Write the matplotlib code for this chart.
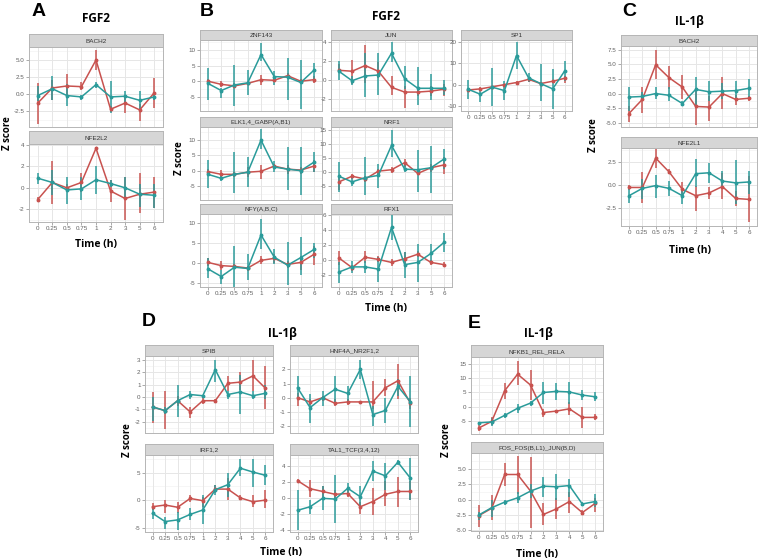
import numpy as np
import matplotlib
matplotlib.use("Agg")
import matplotlib.pyplot as plt

# ---------------- data ----------------
fgf2_times = ["0", "0.25", "0.5", "0.75", "1", "2", "3", "5", "6"]
il1b_times = ["0", "0.25", "0.5", "0.75", "1", "2", "3", "4", "5", "6"]

# Panel A (FGF2)
A_BACH2_red = [-1.3, 0.9, 1.2, 1.1, 5.0, -2.2, -1.3, -2.3, 0.2]
A_BACH2_red_lo = [-4.3, -0.9, -0.6, 0.6, 3.6, -2.6, -2.8, -3.9, -2.0]
A_BACH2_red_hi = [1.7, 2.1, 2.9, 1.8, 6.5, -1.8, -0.1, -1.4, 2.4]
A_BACH2_teal = [-0.2, 0.8, -0.2, -0.4, 1.4, -0.4, -0.3, -0.9, -0.4]
A_BACH2_teal_lo = [-1.0, -0.9, -1.7, -0.9, 0.9, -2.8, -1.1, -2.3, -0.9]
A_BACH2_teal_hi = [1.2, 2.6, 1.5, -0.15, 1.8, 1.9, 0.5, 0.4, 0.3]

A_NFE2L2_red = [-1.1, 0.5, 0.0, 0.5, 3.7, -0.3, -1.0, -0.6, -0.4]
A_NFE2L2_red_lo = [-1.2, -1.5, -0.3, -0.4, 3.5, -1.3, -3.0, -2.4, -1.9]
A_NFE2L2_red_hi = [-0.9, 2.5, 0.35, 1.4, 3.8, 0.7, 1.0, 1.4, 1.0]
A_NFE2L2_teal = [0.9, 0.5, -0.2, -0.1, 0.75, 0.4, 0.0, -0.6, -0.7]
A_NFE2L2_teal_lo = [0.35, -0.7, -1.5, -1.1, -0.55, 0.05, -1.1, -1.8, -1.9]
A_NFE2L2_teal_hi = [1.4, 1.7, 1.0, 1.0, 2.0, 0.7, 1.0, 0.35, 0.35]

# Panel B (FGF2)
B_ZNF143_red = [0.0, -1.0, -1.5, -0.7, 0.5, 0.3, 1.8, 0.0, 0.5]
B_ZNF143_red_lo = [-0.6, -1.7, -2.3, -1.3, -1.2, -0.4, 1.0, -0.6, -0.7]
B_ZNF143_red_hi = [0.6, 0.0, -0.6, -0.1, 2.1, 1.0, 2.6, 0.6, 1.7]
B_ZNF143_teal = [-0.7, -3.0, -1.2, -0.5, 8.6, 1.5, 1.3, -0.4, 3.6]
B_ZNF143_teal_lo = [-6.0, -5.3, -8.0, -4.5, 6.4, -1.2, -5.9, -8.8, 0.4]
B_ZNF143_teal_hi = [4.3, -2.2, 5.3, 3.7, 12.4, 3.2, 7.5, 7.0, 5.9]

B_ELK_red = [-0.3, -1.2, -1.2, -0.5, -0.2, 1.5, 0.5, 0.2, 1.5]
B_ELK_red_lo = [-1.5, -2.6, -2.0, -2.0, -2.6, 0.7, -1.0, -1.0, -0.4]
B_ELK_red_hi = [0.7, 0.1, -0.4, 1.2, 1.7, 2.3, 1.7, 1.2, 3.4]
B_ELK_teal = [-1.2, -2.5, -1.2, -0.5, 10.0, 1.2, 0.5, 0.0, 2.8]
B_ELK_teal_lo = [-5.8, -3.4, -7.4, -5.3, 7.1, -0.4, -6.3, -7.9, -0.4]
B_ELK_teal_hi = [3.5, -1.5, 6.0, 4.4, 13.5, 3.3, 7.6, 7.6, 6.0]

B_NFY_red = [0.2, -0.6, -0.8, -1.2, 0.7, 1.2, -0.3, 0.2, 2.2]
B_NFY_red_lo = [-0.8, -1.6, -1.5, -2.0, -0.3, 0.1, -1.2, -1.6, -0.4]
B_NFY_red_hi = [1.3, 0.5, -0.2, -0.6, 1.8, 2.2, 0.5, 1.8, 4.3]
B_NFY_teal = [-1.4, -3.3, -1.0, -1.3, 7.0, 1.5, -0.5, 1.4, 3.4]
B_NFY_teal_lo = [-3.7, -5.1, -5.9, -4.2, 3.5, -0.3, -5.5, -2.9, 1.4]
B_NFY_teal_hi = [1.4, -1.6, 4.3, 2.2, 11.0, 3.5, 5.2, 6.5, 5.1]

B_JUN_red = [1.0, 0.9, 1.5, 0.9, -0.8, -1.3, -1.3, -1.2, -1.0]
B_JUN_red_lo = [0.7, -0.5, -0.3, 0.2, -1.6, -3.0, -1.7, -1.7, -1.7]
B_JUN_red_hi = [1.7, 2.1, 3.7, 1.9, 0.4, -0.65, -0.85, -0.65, -0.5]
B_JUN_teal = [0.9, -0.1, 0.4, 0.5, 2.8, 0.1, -0.9, -0.9, -0.9]
B_JUN_teal_lo = [0.0, -0.6, -1.8, -1.6, 1.85, -1.0, -2.7, -2.1, -1.6]
B_JUN_teal_hi = [2.0, 0.4, 2.8, 2.8, 4.0, 1.5, 1.3, 0.6, 0.0]

B_NRF1_red = [-3.5, -1.5, -2.5, 0.3, 0.8, 3.3, -0.5, 1.5, 2.5]
B_NRF1_red_lo = [-6.4, -2.6, -3.5, -0.6, -0.2, 1.7, -1.2, 0.0, -0.6]
B_NRF1_red_hi = [-1.2, -0.6, -1.5, 1.2, 1.7, 4.7, 0.6, 2.9, 5.2]
B_NRF1_teal = [-1.5, -3.5, -2.0, -1.2, 9.4, 1.0, 0.8, 1.5, 4.6]
B_NRF1_teal_lo = [-7.0, -4.9, -8.1, -5.8, 5.2, 0.0, -7.0, -7.3, 1.2]
B_NRF1_teal_hi = [3.5, -2.3, 5.2, 2.9, 14.8, 2.3, 7.6, 9.3, 8.1]

B_RFX1_red = [0.3, -1.0, 0.4, 0.1, -0.3, 0.2, 0.8, -0.3, -0.6]
B_RFX1_red_lo = [-0.6, -1.5, -0.4, -0.3, -0.8, -0.6, 0.4, -0.7, -0.9]
B_RFX1_red_hi = [1.3, -0.7, 1.2, 0.6, 0.1, 1.1, 1.3, 0.0, -0.3]
B_RFX1_teal = [-1.6, -0.9, -0.9, -1.2, 4.4, -0.6, -0.3, 0.9, 2.4]
B_RFX1_teal_lo = [-3.1, -1.7, -1.7, -2.9, 2.7, -2.4, -2.9, -0.3, 1.1]
B_RFX1_teal_hi = [-0.3, -0.1, -0.1, 0.4, 6.0, 1.1, 2.2, 2.2, 3.6]

B_SP1_red = [-2.5, -2.0, -1.0, 0.0, 1.0, 2.5, 0.5, 1.6, 3.0]
B_SP1_red_lo = [-3.3, -2.8, -1.5, -0.5, 0.5, 1.2, -0.2, 1.0, 0.8]
B_SP1_red_hi = [-1.6, -1.2, -0.5, 0.5, 1.5, 3.3, 1.1, 2.2, 4.0]
B_SP1_teal = [-2.2, -4.5, -1.2, -2.8, 13.7, 3.2, 0.5, -2.0, 6.5]
B_SP1_teal_lo = [-6.9, -8.1, -10.1, -7.3, 7.3, 1.1, -7.6, -11.3, 1.6]
B_SP1_teal_hi = [2.4, -2.4, 7.6, 1.6, 20.2, 5.6, 9.7, 7.3, 11.0]

# Panel C (IL-1beta)
C_BACH2_red = [-3.4, -1.0, 4.9, 2.7, 1.1, -2.2, -2.3, 0.0, -1.0, -0.8]
C_BACH2_red_lo = [-4.9, -3.3, 2.5, 0.7, -1.0, -5.3, -4.7, -2.7, -2.0, -1.3]
C_BACH2_red_hi = [-2.2, 1.1, 7.4, 4.7, 3.2, 1.0, -0.5, 2.9, -0.2, -0.5]
C_BACH2_teal = [-0.6, -0.5, 0.0, -0.3, -1.7, 0.7, 0.3, 0.4, 0.5, 0.9]
C_BACH2_teal_lo = [-3.0, -1.0, -1.0, -1.3, -2.2, -2.0, -1.3, -1.0, -1.0, -1.0]
C_BACH2_teal_hi = [1.1, 0.2, 1.1, 1.1, -1.2, 2.9, 2.1, 1.8, 2.1, 2.5]

C_NFE2L1_red = [-0.3, -0.3, 2.9, 1.4, -0.5, -1.2, -0.9, -0.2, -1.5, -1.6]
C_NFE2L1_red_lo = [-0.6, -2.0, 1.8, 1.2, -1.2, -2.9, -1.6, -1.6, -2.3, -4.1]
C_NFE2L1_red_hi = [0.0, 1.4, 4.0, 1.7, 0.3, -0.1, -0.3, 1.3, -0.7, 0.9]
C_NFE2L1_teal = [-1.2, -0.4, -0.1, -0.4, -1.2, 1.2, 1.3, 0.4, 0.2, 0.3]
C_NFE2L1_teal_lo = [-2.0, -1.6, -1.4, -1.2, -2.1, -0.3, 0.2, -0.5, -2.1, -1.0]
C_NFE2L1_teal_hi = [-0.5, 0.6, 1.1, 0.4, -0.5, 2.8, 2.4, 1.5, 2.7, 1.5]

# Panel D (IL-1beta)
D_SPIB_red = [-0.8, -1.1, -0.3, -1.2, -0.3, -0.3, 1.1, 1.2, 1.7, 0.7]
D_SPIB_red_lo = [-2.1, -2.6, -0.7, -1.7, -0.6, -0.4, 0.5, 0.6, 0.5, -1.0]
D_SPIB_red_hi = [0.4, 0.5, 0.1, -0.8, 0.0, -0.2, 1.7, 2.0, 3.0, 2.5]
D_SPIB_teal = [-0.8, -1.1, -0.3, 0.2, 0.1, 2.2, 0.2, 0.4, 0.1, 0.3]
D_SPIB_teal_lo = [-1.9, -1.4, -1.6, -0.2, 0.0, 1.2, -0.2, -1.4, -0.2, -0.2]
D_SPIB_teal_hi = [0.0, -0.8, 1.0, 0.5, 0.2, 3.0, 0.5, 1.8, 0.5, 1.0]

D_HNF4A_red = [0.0, -0.3, 0.0, -0.4, -0.3, -0.3, -0.3, 0.7, 1.2, -0.4]
D_HNF4A_red_lo = [-0.6, -0.5, -0.2, -0.6, -0.5, -0.4, -0.8, 0.1, -0.1, -0.8]
D_HNF4A_red_hi = [0.35, -0.1, 0.15, -0.1, -0.1, -0.2, 1.2, 1.3, 2.35, 0.0]
D_HNF4A_teal = [0.7, -0.7, 0.0, 0.6, 0.3, 2.0, -1.2, -0.9, 0.8, -0.3]
D_HNF4A_teal_lo = [-0.1, -1.8, -0.6, -0.3, -0.2, 1.3, -2.0, -1.8, 0.1, -2.1]
D_HNF4A_teal_hi = [1.5, 0.25, 0.5, 1.5, 0.8, 2.7, -0.6, 0.0, 1.3, 1.5]

D_IRF_red = [-1.2, -0.9, -1.3, 0.3, -0.1, 2.0, 2.0, 0.4, -0.3, 0.0]
D_IRF_red_lo = [-1.8, -2.4, -2.4, -0.3, -1.2, 1.2, 0.0, 0.0, -1.2, -1.5]
D_IRF_red_hi = [-0.6, 0.0, -0.3, 0.9, 0.6, 2.7, 4.0, 0.9, 0.9, 1.8]
D_IRF_teal = [-2.4, -3.9, -3.6, -2.6, -1.8, 1.9, 2.8, 5.8, 5.1, 4.5]
D_IRF_teal_lo = [-3.4, -5.2, -5.5, -3.7, -4.3, 0.9, 0.6, 4.3, 2.4, 2.7]
D_IRF_teal_hi = [-1.5, -3.0, -2.1, -1.5, 0.9, 2.7, 4.9, 7.4, 7.4, 6.4]

D_TAL1_red = [2.2, 1.2, 0.85, 0.5, 0.6, -1.05, -0.4, 0.5, 0.85, 0.85]
D_TAL1_red_lo = [2.0, 0.2, 0.2, 0.0, 0.2, -1.9, -2.1, -1.0, -1.05, -0.2]
D_TAL1_red_hi = [2.4, 2.3, 1.5, 1.0, 1.05, -0.4, 1.25, 2.1, 2.7, 2.1]
D_TAL1_teal = [-1.5, -1.05, 0.0, -0.1, 1.25, 0.2, 3.4, 2.8, 4.5, 2.5]
D_TAL1_teal_lo = [-3.9, -1.9, -1.5, -3.1, 0.6, -1.05, 2.1, 1.05, 4.2, -0.2]
D_TAL1_teal_hi = [1.05, -0.2, 1.5, 2.9, 1.9, 1.5, 4.6, 4.4, 4.8, 5.0]

# Panel E (IL-1beta)
E_NFKB1_red = [-7.5, -5.2, 5.5, 11.3, 7.5, -2.1, -1.6, -0.8, -3.8, -3.8]
E_NFKB1_red_lo = [-8.7, -6.4, 2.6, 7.5, 2.3, -3.6, -2.0, -3.1, -7.5, -4.7]
E_NFKB1_red_hi = [-6.4, -3.6, 8.3, 15.8, 12.8, -0.8, -1.1, 1.5, 0.0, -2.5]
E_NFKB1_teal = [-5.7, -5.4, -3.1, -0.6, 1.2, 4.9, 5.3, 5.1, 4.0, 3.4]
E_NFKB1_teal_lo = [-6.1, -6.8, -3.9, -2.3, 0.3, 0.9, 2.3, 0.9, 2.3, 2.0]
E_NFKB1_teal_hi = [-5.3, -4.1, -2.3, 0.9, 2.0, 8.7, 8.3, 8.7, 5.7, 4.9]

E_FOS_red = [-2.6, -1.4, 4.1, 4.1, 1.4, -2.4, -1.5, -0.3, -2.1, -0.6]
E_FOS_red_lo = [-4.4, -3.3, 2.3, 1.0, -4.6, -4.1, -3.1, -2.2, -2.5, -2.0]
E_FOS_red_hi = [-0.9, 0.7, 5.9, 7.1, 7.0, -0.6, 0.2, 1.2, -1.7, 0.2]
E_FOS_teal = [-2.5, -1.3, -0.4, 0.3, 1.4, 2.2, 2.1, 2.3, -0.7, -0.3]
E_FOS_teal_lo = [-3.3, -2.8, -0.9, -0.6, 0.2, 0.4, 0.0, 0.4, -1.1, -1.2]
E_FOS_teal_hi = [-2.0, -0.1, 0.0, 1.2, 2.6, 3.7, 4.2, 3.4, -0.4, 0.9]

# ---------------- style ----------------
W, H = 760, 560
RED = "#c8524f"
TEAL = "#2a9b9a"
TICK_C = "#606060"
FONT = ["Liberation Sans", "DejaVu Sans"]
plt.rcParams["font.family"] = FONT

fig = plt.figure(figsize=(W / 100, H / 100), dpi=100)


def rect(x0, y0, x1, y1):
    return [x0 / W, 1 - y1 / H, (x1 - x0) / W, (y1 - y0) / H]


def facet(x0, x1, strip_top, strip_h, plot_bot, name, times, red, rlo, rhi,
          teal, tlo, thi, ylim, yticks, fmt, show_x):
    ptop = strip_top + strip_h
    ax = fig.add_axes(rect(x0, ptop, x1, plot_bot))
    n = len(times)
    x = np.arange(n)
    ax.set_xlim(-0.6, n - 1 + 0.6)
    ax.set_ylim(*ylim)
    # grid
    minor = [(a + b) / 2 for a, b in zip(yticks[:-1], yticks[1:])]
    step = yticks[1] - yticks[0]
    minor = [yticks[0] - step / 2] + minor + [yticks[-1] + step / 2]
    for m in minor:
        ax.axhline(m, color="#f3f3f3", lw=0.5, zorder=0)
    for t in yticks:
        ax.axhline(t, color="#e6e6e6", lw=0.7, zorder=0)
    for xi in x:
        ax.axvline(xi, color="#e6e6e6", lw=0.7, zorder=0)
    # series
    for mean, lo, hi, c in [(red, rlo, rhi, RED), (teal, tlo, thi, TEAL)]:
        ax.vlines(x, lo, hi, color=c, lw=1.2, zorder=2, alpha=0.9)
        ax.plot(x, mean, color=c, lw=1.1, marker="o", ms=1.8, zorder=3)
    ax.set_yticks(yticks)
    ax.set_yticklabels([fmt.format(t) for t in yticks])
    ax.set_xticks(x)
    if show_x:
        ax.set_xticklabels(times)
    else:
        ax.set_xticklabels([])
    ax.tick_params(axis="both", length=2, width=0.5, color="#888888",
                   labelsize=4.5, labelcolor=TICK_C, pad=1.2)
    if not show_x:
        ax.tick_params(axis="x", length=0)
    for s in ax.spines.values():
        s.set_color("#b5b5b5")
        s.set_linewidth(0.7)
    # strip
    sx = fig.add_axes(rect(x0, strip_top, x1, ptop))
    sx.set_facecolor("#d6d6d6")
    sx.set_xticks([])
    sx.set_yticks([])
    for s in sx.spines.values():
        s.set_color("#b5b5b5")
        s.set_linewidth(0.7)
    sx.text(0.5, 0.45, name, ha="center", va="center", fontsize=4.6,
            color="#333333", transform=sx.transAxes)
    return ax


def label(x, y, s, **kw):
    fig.text(x / W, 1 - y / H, s, ha="center", va="center", **kw)


TITLE_FONT = ["Open Sans", "DejaVu Sans"]

# ---------- Panel A ----------
facet(29, 163, 34, 13, 127, "BACH2", fgf2_times, A_BACH2_red, A_BACH2_red_lo,
      A_BACH2_red_hi, A_BACH2_teal, A_BACH2_teal_lo, A_BACH2_teal_hi,
      (-4.8, 6.9), [-2.5, 0.0, 2.5, 5.0], "{:.1f}", False)
facet(29, 163, 131, 13, 222, "NFE2L2", fgf2_times, A_NFE2L2_red, A_NFE2L2_red_lo,
      A_NFE2L2_red_hi, A_NFE2L2_teal, A_NFE2L2_teal_lo, A_NFE2L2_teal_hi,
      (-3.2, 4.1), [-2, 0, 2, 4], "{:.0f}", True)
label(39, 12, "A", fontsize=14, fontweight="bold", family=FONT)
label(96, 18, "FGF2", fontsize=8.5, fontweight="bold", family=TITLE_FONT)
label(96, 245, "Time (h)", fontsize=7.5, fontweight="bold", family=TITLE_FONT)
label(8, 133, "Z score", fontsize=7, fontweight="bold", rotation=90, family=TITLE_FONT)

# ---------- Panel B ----------
cols = [(200, 322), (331, 452), (461, 572)]
rows = [(30, 111), (117, 200), (204, 287)]
SH = 10
facet(*cols[0], rows[0][0], SH, rows[0][1], "ZNF143", fgf2_times, B_ZNF143_red,
      B_ZNF143_red_lo, B_ZNF143_red_hi, B_ZNF143_teal, B_ZNF143_teal_lo,
      B_ZNF143_teal_hi, (-9.6, 13.3), [-5, 0, 5, 10], "{:.0f}", False)
facet(*cols[1], rows[0][0], SH, rows[0][1], "JUN", fgf2_times, B_JUN_red,
      B_JUN_red_lo, B_JUN_red_hi, B_JUN_teal, B_JUN_teal_lo, B_JUN_teal_hi,
      (-3.3, 4.2), [-2, 0, 2, 4], "{:.0f}", False)
facet(*cols[2], rows[0][0], SH, rows[0][1], "SP1", fgf2_times, B_SP1_red,
      B_SP1_red_lo, B_SP1_red_hi, B_SP1_teal, B_SP1_teal_lo, B_SP1_teal_hi,
      (-12.4, 21.0), [-10, 0, 10, 20], "{:.0f}", True)
facet(*cols[0], rows[1][0], SH, rows[1][1], "ELK1,4_GABP(A,B1)", fgf2_times,
      B_ELK_red, B_ELK_red_lo, B_ELK_red_hi, B_ELK_teal, B_ELK_teal_lo,
      B_ELK_teal_hi, (-9.6, 14.3), [-5, 0, 5, 10], "{:.0f}", False)
facet(*cols[1], rows[1][0], SH, rows[1][1], "NRF1", fgf2_times, B_NRF1_red,
      B_NRF1_red_lo, B_NRF1_red_hi, B_NRF1_teal, B_NRF1_teal_lo, B_NRF1_teal_hi,
      (-9.9, 15.9), [-5, 0, 5, 10, 15], "{:.0f}", False)
facet(*cols[0], rows[2][0], SH, rows[2][1], "NFY(A,B,C)", fgf2_times, B_NFY_red,
      B_NFY_red_lo, B_NFY_red_hi, B_NFY_teal, B_NFY_teal_lo, B_NFY_teal_hi,
      (-5.9, 12.2), [-5, 0, 5, 10], "{:.0f}", True)
facet(*cols[1], rows[2][0], SH, rows[2][1], "RFX1", fgf2_times, B_RFX1_red,
      B_RFX1_red_lo, B_RFX1_red_hi, B_RFX1_teal, B_RFX1_teal_lo, B_RFX1_teal_hi,
      (-3.6, 6.2), [-2, 0, 2, 4, 6], "{:.0f}", True)
label(207, 12, "B", fontsize=14, fontweight="bold", family=FONT)
label(386, 17, "FGF2", fontsize=8.5, fontweight="bold", family=TITLE_FONT)
label(386, 308, "Time (h)", fontsize=7.5, fontweight="bold", family=TITLE_FONT)
label(180, 158, "Z score", fontsize=7, fontweight="bold", rotation=90, family=TITLE_FONT)

# ---------- Panel C ----------
facet(621, 757, 35, 11, 127, "BACH2", il1b_times, C_BACH2_red, C_BACH2_red_lo,
      C_BACH2_red_hi, C_BACH2_teal, C_BACH2_teal_lo, C_BACH2_teal_hi,
      (-5.7, 8.1), [-5.0, -2.5, 0.0, 2.5, 5.0, 7.5], "{:.1f}", False)
facet(621, 757, 137, 11, 226, "NFE2L1", il1b_times, C_NFE2L1_red, C_NFE2L1_red_lo,
      C_NFE2L1_red_hi, C_NFE2L1_teal, C_NFE2L1_teal_lo, C_NFE2L1_teal_hi,
      (-4.5, 4.0), [-2.5, 0.0, 2.5], "{:.1f}", True)
label(629, 12, "C", fontsize=14, fontweight="bold", family=FONT)
label(689, 21, "IL-1β", fontsize=8.5, fontweight="bold", family=TITLE_FONT)
label(690, 251, "Time (h)", fontsize=7.5, fontweight="bold", family=TITLE_FONT)
label(594, 135, "Z score", fontsize=7, fontweight="bold", rotation=90, family=TITLE_FONT)

# ---------- Panel D ----------
dcols = [(145, 273), (290, 418)]
drows = [(345, 433), (444, 532)]
facet(*dcols[0], drows[0][0], 11, drows[0][1], "SPIB", il1b_times, D_SPIB_red,
      D_SPIB_red_lo, D_SPIB_red_hi, D_SPIB_teal, D_SPIB_teal_lo, D_SPIB_teal_hi,
      (-2.9, 3.3), [-2, -1, 0, 1, 2, 3], "{:.0f}", False)
facet(*dcols[1], drows[0][0], 11, drows[0][1], "HNF4A_NR2F1,2", il1b_times,
      D_HNF4A_red, D_HNF4A_red_lo, D_HNF4A_red_hi, D_HNF4A_teal, D_HNF4A_teal_lo,
      D_HNF4A_teal_hi, (-2.5, 2.95), [-2, -1, 0, 1, 2], "{:.0f}", False)
facet(*dcols[0], drows[1][0], 11, drows[1][1], "IRF1,2", il1b_times, D_IRF_red,
      D_IRF_red_lo, D_IRF_red_hi, D_IRF_teal, D_IRF_teal_lo, D_IRF_teal_hi,
      (-5.8, 8.2), [-5, 0, 5], "{:.0f}", True)
facet(*dcols[1], drows[1][0], 11, drows[1][1], "TAL1_TCF(3,4,12)", il1b_times,
      D_TAL1_red, D_TAL1_red_lo, D_TAL1_red_hi, D_TAL1_teal, D_TAL1_teal_lo,
      D_TAL1_teal_hi, (-4.2, 5.4), [-4, -2, 0, 2, 4], "{:.0f}", True)
label(149, 322, "D", fontsize=14, fontweight="bold", family=FONT)
label(282, 333, "IL-1β", fontsize=8.5, fontweight="bold", family=TITLE_FONT)
label(281, 553, "Time (h)", fontsize=7.5, fontweight="bold", family=TITLE_FONT)
label(127, 440, "Z score", fontsize=7, fontweight="bold", rotation=90, family=TITLE_FONT)

# ---------- Panel E ----------
facet(471, 603, 345, 12, 434, "NFKB1_REL_RELA", il1b_times, E_NFKB1_red,
      E_NFKB1_red_lo, E_NFKB1_red_hi, E_NFKB1_teal, E_NFKB1_teal_lo,
      E_NFKB1_teal_hi, (-9.6, 17.3), [-5, 0, 5, 10, 15], "{:.0f}", False)
facet(471, 603, 442, 11, 531, "FOS_FOS(B,L1)_JUN(B,D)", il1b_times, E_FOS_red,
      E_FOS_red_lo, E_FOS_red_hi, E_FOS_teal, E_FOS_teal_lo, E_FOS_teal_hi,
      (-5.1, 7.6), [-5.0, -2.5, 0.0, 2.5, 5.0], "{:.1f}", True)
label(474, 323, "E", fontsize=14, fontweight="bold", family=FONT)
label(538, 333, "IL-1β", fontsize=8.5, fontweight="bold", family=TITLE_FONT)
label(537, 554, "Time (h)", fontsize=7.5, fontweight="bold", family=TITLE_FONT)
label(446, 440, "Z score", fontsize=7, fontweight="bold", rotation=90, family=TITLE_FONT)

fig.savefig("out.png", dpi=100)
